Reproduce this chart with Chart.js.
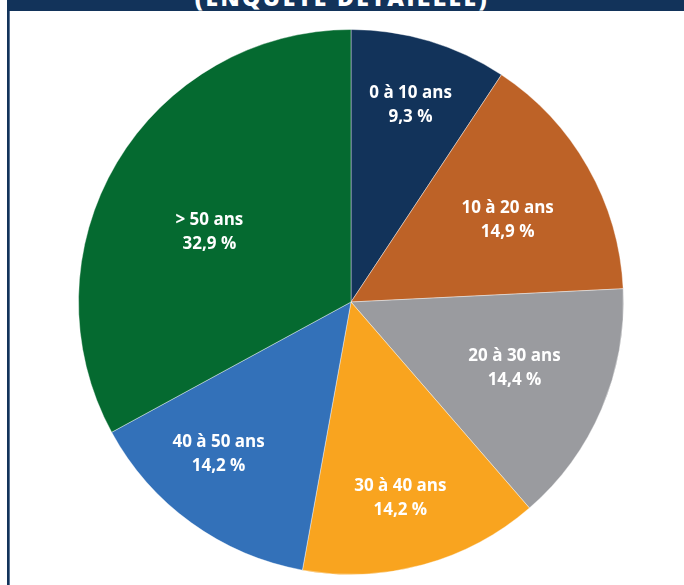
<!DOCTYPE html>
<html lang="fr">
<head>
<meta charset="utf-8">
<script src="https://cdn.jsdelivr.net/npm/chart.js@4"></script>
<style>
  html, body { margin: 0; padding: 0; background: #fff; }
  #frame { position: relative; width: 684px; height: 585px; overflow: hidden; }
  #top-bar {
    position: absolute; left: 7px; top: 0; width: 677px; height: 11px;
    background: #12335a; overflow: hidden;
  }
  #top-bar span {
    position: absolute; left: -7px; right: 0; top: -19px; text-align: center;
    font-family: "Open Sans", sans-serif; font-weight: 800; font-size: 23px;
    letter-spacing: 2.4px; color: #fff; white-space: nowrap;
  }
  #left-rule {
    position: absolute; left: 7px; top: 11px; width: 2px; height: 574px;
    background: #12335a; border-right: 1px solid #5c7594;
  }
  #pie { position: absolute; left: 0; top: 0; }
</style>
</head>
<body>
<div id="frame">
  <canvas id="pie" width="684" height="585"></canvas>
  <div id="top-bar"><span>(ENQUÊTE DÉTAILLÉE)</span></div>
  <div id="left-rule"></div>
</div>
<script>
const ageGroups = ['0 à 10 ans', '10 à 20 ans', '20 à 30 ans', '30 à 40 ans', '40 à 50 ans', '> 50 ans'];
const shares = [9.3, 14.9, 14.4, 14.2, 14.2, 32.9];
const sliceColors = ['#12335a', '#bd6227', '#9a9b9f', '#f9a41f', '#3371b9', '#056a30'];
// label placement: fraction of the radius, and a small turn (degrees) off the slice middle
const labelReach = [0.758, 0.65, 0.646, 0.737, 0.737, 0.582];
const labelTurn = [0, 1.8, -1.4, 1.1, 5.4, -4];

const sliceLabels = {
    id: 'sliceLabels',
    afterDatasetsDraw(chart) {
        const { ctx } = chart;
        const arcs = chart.getDatasetMeta(0).data;
        ctx.save();
        ctx.fillStyle = '#fff';
        ctx.textAlign = 'center';
        ctx.textBaseline = 'middle';
        ctx.font = '700 17px "Open Sans", sans-serif';
        arcs.forEach((arc, i) => {
            const mid = (arc.startAngle + arc.endAngle) / 2 + labelTurn[i] * Math.PI / 180;
            const r = arc.outerRadius * labelReach[i];
            const x = arc.x + Math.cos(mid) * r;
            const y = arc.y + Math.sin(mid) * r + 1;
            const value = shares[i].toFixed(1).replace('.', ',') + ' %';
            ctx.fillText(ageGroups[i], x, y - 12);
            ctx.fillText(value, x, y + 12);
        });
        ctx.restore();
    }
};

new Chart(document.getElementById('pie'), {
    type: 'pie',
    data: {
        labels: ageGroups,
        datasets: [{
            data: shares,
            backgroundColor: sliceColors,
            borderColor: 'rgba(255,255,255,0.4)',
            borderWidth: 1
        }]
    },
    options: {
        responsive: false,
        animation: false,
        layout: { padding: { left: 78, right: 60, top: 29, bottom: 10 } },
        plugins: { legend: { display: false }, tooltip: { enabled: false } }
    },
    plugins: [sliceLabels]
});
</script>
</body>
</html>
